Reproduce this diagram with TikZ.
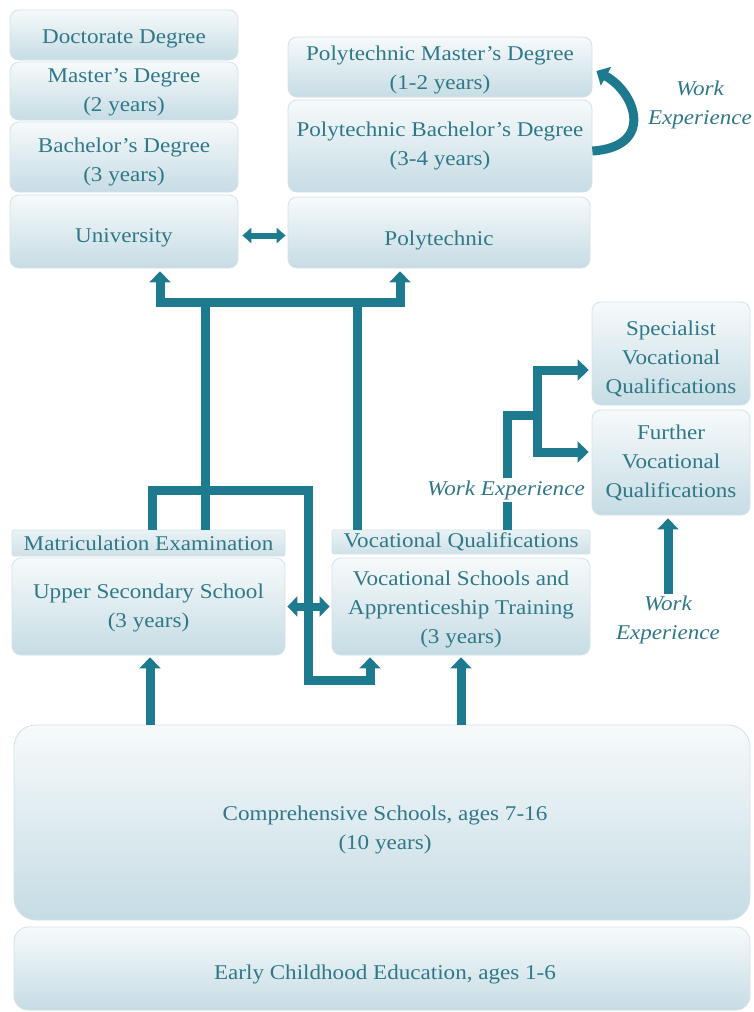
\documentclass[tikz,border=0pt]{standalone}
\usepackage{fontspec}
\setmainfont{Liberation Serif}[FakeStretch=1.1]
\usetikzlibrary{arrows.meta,calc}
\definecolor{txt}{HTML}{2F7889}
\definecolor{arr}{HTML}{1E7A8F}
\definecolor{boxtop}{HTML}{F6FAFB}
\definecolor{boxbot}{HTML}{C6DCE4}
\definecolor{boxline}{HTML}{D3E2E8}
\definecolor{bandtop}{HTML}{E9F2F5}
\definecolor{bandbot}{HTML}{CFE1E7}
\begin{document}
\begin{tikzpicture}[x=1pt,y=-1pt,
  box/.style={draw=boxline, line width=0.8pt, rounded corners=9pt, top color=boxtop, bottom color=boxbot, inner sep=0pt},
  band/.style={draw=boxline, line width=0.6pt, rounded corners=2pt, top color=bandtop, bottom color=bandbot,
    text=txt, align=center, inner sep=0pt, font=\fontsize{21}{29}\selectfont},
  tx/.style={text=txt, align=center, inner sep=0pt, font=\fontsize{21}{29}\selectfont},
  lbl/.style={text=txt, align=center, inner sep=2pt, font=\fontsize{21}{29}\selectfont\itshape},
  conn/.style={draw=arr, line width=9pt, line join=miter},
  tip/.style={-{Triangle[width=21pt,length=11pt]}},
  tips/.style={{Triangle[width=21pt,length=11pt]}-{Triangle[width=21pt,length=11pt]}},
  dbl/.style={draw=arr, line width=6pt, {Triangle[width=15pt,length=9pt]}-{Triangle[width=15pt,length=9pt]}},
  dblb/.style={draw=arr, line width=8pt, {Triangle[width=20pt,length=10pt]}-{Triangle[width=20pt,length=10pt]}}
]
\useasboundingbox (0,0) rectangle (754,1012);
\fill[white] (0,0) rectangle (754,1012);

% university column
\node[box, minimum width=228pt, minimum height=50pt] (doc) at (124,35) {};
\node[tx] (docT) at ([yshift=-4pt]doc.center) {Doctorate Degree};
\node[box, minimum width=228pt, minimum height=58pt] (mas) at (124,91) {};
\node[tx] (masT) at ([yshift=-1pt]mas.center) {Master’s Degree\\(2 years)};
\node[box, minimum width=228pt, minimum height=70pt] (bac) at (124,157) {};
\node[tx] (bacT) at ([yshift=-5pt]bac.center) {Bachelor’s Degree\\(3 years)};
\node[box, minimum width=228pt, minimum height=73pt] (uni) at (124,231.5) {};
\node[tx] (uniT) at ([yshift=-6pt]uni.center) {University};

% polytechnic column
\node[box, minimum width=304pt, minimum height=60pt] (pm) at (440,67) {};
\node[tx] (pmT) at ([yshift=-3pt]pm.center) {Polytechnic Master’s Degree\\(1-2 years)};
\node[box, minimum width=304pt, minimum height=92pt] (pb) at (440,146) {};
\node[tx] (pbT) at (pb.center) {Polytechnic Bachelor’s Degree\\(3-4 years)};
\node[box, minimum width=302pt, minimum height=71pt] (poly) at (439,232.5) {};
\node[tx] (polyT) at ([yshift=-8pt]poly.center) {Polytechnic};

% secondary level
\node[band, minimum width=273pt, minimum height=26pt] (mat) at (148.5,543) {Matriculation Examination};
\node[box, minimum width=273pt, minimum height=97pt] (upper) at (148.5,606.5) {};
\node[tx] (upperT) at ([yshift=-1pt]upper.center) {Upper Secondary School\\(3 years)};
\node[band, minimum width=258pt, minimum height=24pt] (vq) at (461,542) {Vocational Qualifications};
\node[box, minimum width=258pt, minimum height=97pt] (vs) at (461,606.5) {};
\node[tx] (vsT) at ([yshift=-3pt]vs.center) {Vocational Schools and\\Apprenticeship Training\\(3 years)};

% vocational qualifications
\node[box, minimum width=158pt, minimum height=103pt] (spec) at (671,353.5) {};
\node[tx] (specT) at ([yshift=-5pt]spec.center) {Specialist\\Vocational\\Qualifications};
\node[box, minimum width=158pt, minimum height=105pt] (fvq) at (671,462.5) {};
\node[tx] (fvqT) at (fvq.center) {Further\\Vocational\\Qualifications};

% basic education
\node[box, minimum width=736pt, minimum height=195pt, rounded corners=22pt] (comp) at (382,822.5) {};
\node[tx] (compT) at ([yshift=-7pt,xshift=3pt]comp.center) {Comprehensive Schools, ages 7-16\\(10 years)};
\node[box, minimum width=736pt, minimum height=83pt, rounded corners=14pt] (early) at (382,968.5) {};
\node[tx] (earlyT) at ([yshift=-6pt,xshift=3pt]early.center) {Early Childhood Education, ages 1-6};

% labels
\node[lbl] (we1) at (506,490) {Work Experience};
\node[lbl] (we2) at (668,620) {Work\\Experience};
\node[lbl] (we3) at (700,105) {Work\\Experience};

% junction coordinates
\coordinate (jL) at (160,302);
\coordinate (jR) at (400,302);
\coordinate (jM) at (205,302);
\coordinate (jN) at (357,302);
\coordinate (h1) at (152,490);
\coordinate (h2) at (308,490);
\coordinate (h3) at (308,680);
\coordinate (h4) at (370,680);
\coordinate (v1) at (507,415);
\coordinate (v2) at (537,415);
\coordinate (a1) at (537,370);
\coordinate (a2) at (537,452);
\coordinate (c1) at (150,700);
\coordinate (c2) at (461,700);

% connectors to higher education
\draw[conn, tips, shorten <=3pt, shorten >=3pt] (jL |- uni.south) -- (jL) -- (jR) -- (jR |- poly.south);
\draw[conn] (jM) -- (jM |- mat.north);
\draw[conn] (jN) -- (jN |- vq.north);
\draw[conn, tip, shorten >=2pt] (h1 |- mat.north) -- (h1) -- (h2) -- (h3) -- (h4) -- (h4 |- vs.south);

% vocational qualifications paths
\draw[conn] (vq.north -| v1) -- (we1.south -| v1);
\draw[conn] (we1.north -| v1) -- (v1) -- (v2);
\draw[conn, tips, shorten <=3pt, shorten >=3pt] (a1 -| spec.west) -- (a1) -- (a2) -- (a2 -| fvq.west);
\draw[conn, tip, shorten >=3pt] (we2.north) -- (we2.north |- fvq.south);

% from comprehensive schools
\draw[conn, tip, shorten >=2pt] (c1 |- comp.north) -- (c1 |- upper.south);
\draw[conn, tip, shorten >=2pt] (c2 |- comp.north) -- (c2 |- vs.south);

% double arrows
\draw[dbl, shorten <=4pt, shorten >=2pt] ([yshift=-4pt]uni.east) -- ([yshift=-4pt]uni.east -| poly.west);
\draw[dblb, shorten <=2pt, shorten >=2pt] (upper.east) -- (upper.east -| vs.west);

% curved work-experience arrow
\draw[conn, tip] ([yshift=-5pt]pb.east) .. controls +(62,-4) and +(40,22) .. ([xshift=4pt,yshift=-4pt]pm.east);
\end{tikzpicture}
\end{document}
